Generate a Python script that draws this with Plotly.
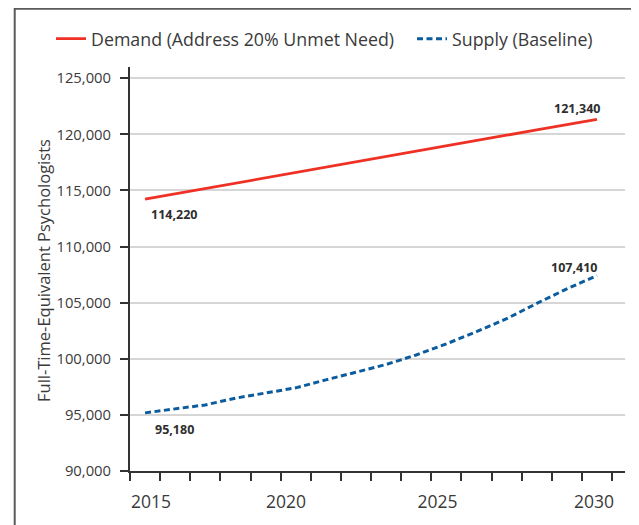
import plotly.graph_objects as go

years = list(range(2015, 2031))
demand = [114220, 114700, 115170, 115650, 116120, 116600, 117070, 117540,
          118020, 118490, 118970, 119440, 119920, 120390, 120870, 121340]
supply = [95180, 95560, 95890, 96490, 96920, 97410, 98120, 98790,
          99490, 100340, 101330, 102410, 103570, 104930, 106230, 107410]
demand_name = "Demand (Address 20% Unmet Need)"
supply_name = "Supply (Baseline)"
y_title = "Full-Time-Equivalent Psychologists"
x_tick_labels = ["2015", "2020", "2025", "2030"]
x_tick_pos = [2015.2, 2019.68, 2024.71, 2029.9]
y_ticks = [90000, 95000, 100000, 105000, 110000, 115000, 120000, 125000]

RED = "#ee3124"
BLUE = "#0b5c9e"
TXT = "#3a3a3a"
FONT = "Open Sans"

fig = go.Figure()
fig.add_trace(go.Scatter(x=years, y=demand, mode="lines", name=demand_name,
                         line=dict(color=RED, width=2.8), legend="legend"))
fig.add_trace(go.Scatter(x=years, y=supply, mode="lines", name=supply_name,
                         line=dict(color=BLUE, width=3, dash="6px,3.5px"), legend="legend2"))

def fmt(v):
    return f"{v:,}"

ann = [
    dict(x=years[0], y=demand[0], text=fmt(demand[0]), xanchor="left", yanchor="middle", xshift=4, yshift=-15),
    dict(x=years[-1], y=demand[-1], text=fmt(demand[-1]), xanchor="right", yanchor="middle", xshift=5, yshift=11),
    dict(x=years[0], y=supply[0], text=fmt(supply[0]), xanchor="left", yanchor="middle", xshift=8, yshift=-17),
    dict(x=years[-1], y=supply[-1], text=fmt(supply[-1]), xanchor="right", yanchor="middle", xshift=2, yshift=8),
]
for a in ann:
    a.update(showarrow=False, font=dict(family=FONT, size=12.5, color="#2e2e2e", weight="bold"))
    fig.add_annotation(**a)

fig.add_annotation(x=-0.1758, y=0.4975, xref="paper", yref="paper", text=y_title,
                   textangle=-90, showarrow=False, xanchor="center", yanchor="middle",
                   font=dict(family=FONT, size=16.5, color=TXT))

# outer frame (open at the bottom)
fig.add_shape(type="path", xref="paper", yref="paper",
              path="M -0.2329 -0.2 L -0.2329 1.144 L 1.0156 1.144 L 1.0156 -0.2",
              line=dict(color="#5a5a5a", width=2))

legend_common = dict(orientation="h", xanchor="left", y=1.069, yanchor="middle",
                     font=dict(family=FONT, size=17.8, color=TXT), bgcolor="rgba(0,0,0,0)",
                     itemwidth=30)

fig.update_layout(
    width=631, height=517,
    margin=dict(l=122, r=14, t=59, b=54, autoexpand=False),
    paper_bgcolor="white", plot_bgcolor="white",
    font=dict(family=FONT, color=TXT),
    showlegend=True,
    legend=dict(x=-0.1596, **legend_common),
    legend2=dict(x=0.5697, **legend_common),
    xaxis=dict(range=[2014.5, 2030.93], showgrid=False, zeroline=False, automargin=False,
               showline=True, linecolor="#333333", linewidth=2,
               tickmode="array", tickvals=x_tick_pos, ticktext=x_tick_labels,
               ticks="outside", ticklen=0, ticklabelstandoff=14,
               tickfont=dict(family=FONT, size=17.5, color=TXT),
               minor=dict(tickmode="array", tickvals=[2014.5 + k for k in range(17)],
                          ticks="outside", ticklen=8, tickwidth=1.5, tickcolor="#333333",
                          showgrid=False)),
    yaxis=dict(range=[90000, 126000], showgrid=True, gridcolor="#d6d6d6", gridwidth=1.5,
               zeroline=False, showline=True, linecolor="#333333", linewidth=2, automargin=False,
               tickmode="array", tickvals=y_ticks, tickformat=",d",
               ticks="outside", ticklen=8, tickwidth=1.5, tickcolor="#333333",
               ticklabelstandoff=6,
               tickfont=dict(family=FONT, size=14.8, color=TXT)),
)

fig.write_html("out.html")
